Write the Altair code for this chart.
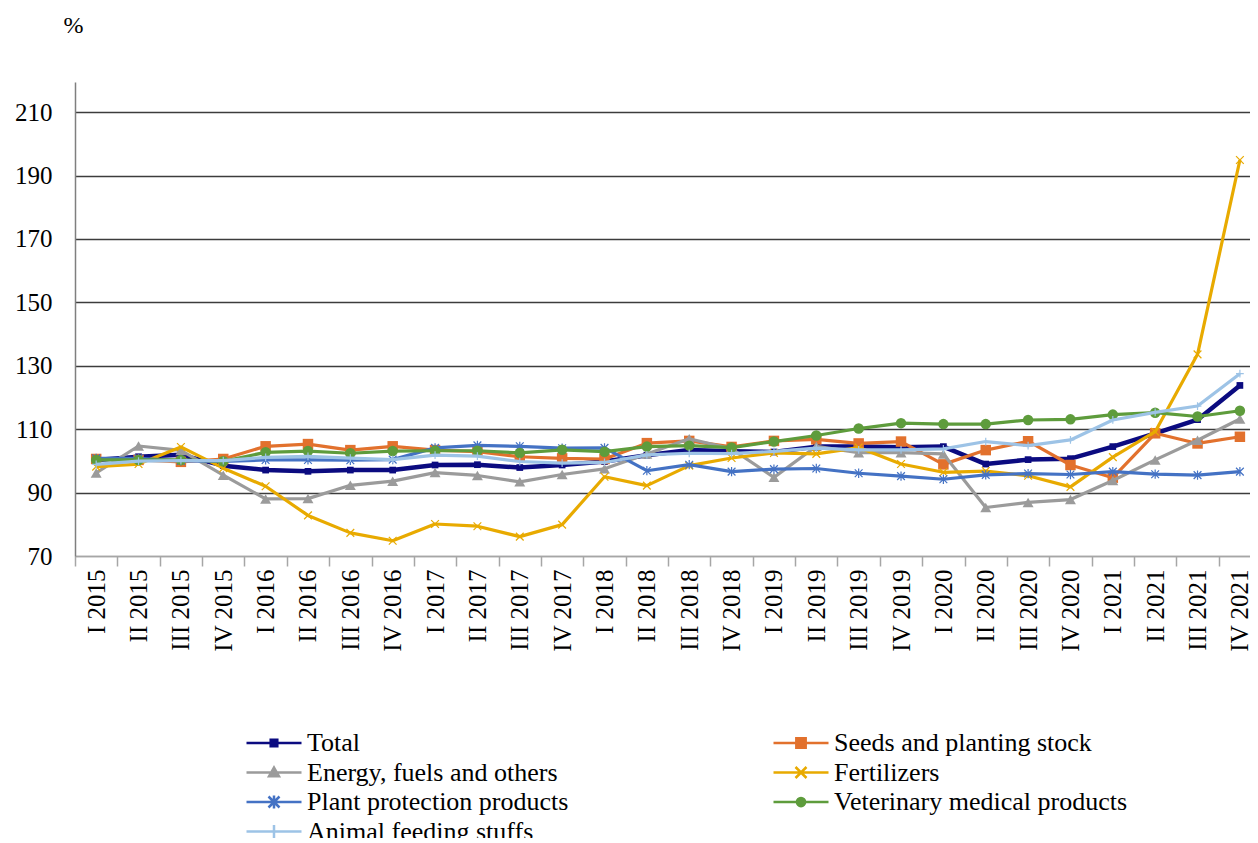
import json
import altair as alt
import pandas as pd

quarters = [
    "I 2015", "II 2015", "III 2015", "IV 2015",
    "I 2016", "II 2016", "III 2016", "IV 2016",
    "I 2017", "II 2017", "III 2017", "IV 2017",
    "I 2018", "II 2018", "III 2018", "IV 2018",
    "I 2019", "II 2019", "III 2019", "IV 2019",
    "I 2020", "II 2020", "III 2020", "IV 2020",
    "I 2021", "II 2021", "III 2021", "IV 2021",
]

series_names = [
    "Total",
    "Seeds and planting stock",
    "Energy, fuels and others",
    "Fertilizers",
    "Plant protection products",
    "Veterinary medical products",
    "Animal feeding stuffs",
]

total = [100.3, 101.3, 101.9, 98.5, 97.1, 96.7, 97.1, 97.1, 98.7, 98.8, 97.9, 98.7, 99.8, 101.8,
         103.4, 103.0, 102.8, 104.5, 104.5, 104.3, 104.5, 99.0, 100.4, 100.7, 104.5, 108.7, 113.0, 123.8]
seeds = [100.6, 100.3, 99.7, 100.6, 104.6, 105.3, 103.4, 104.6, 103.4, 102.9, 101.3, 100.8, 100.6, 105.6,
         106.3, 104.4, 106.3, 106.8, 105.5, 106.1, 98.9, 103.4, 106.2, 98.7, 94.7, 108.7, 105.5, 107.6]
energy = [96.2, 104.7, 103.3, 95.5, 88.0, 88.1, 92.3, 93.6, 96.3, 95.4, 93.4, 95.7, 97.5, 102.2,
          107.0, 103.8, 94.8, 104.6, 102.6, 102.6, 102.2, 85.3, 86.9, 87.8, 93.8, 100.3, 106.5, 113.2]
fertilizers = [98.2, 99.0, 104.4, 97.7, 92.0, 82.8, 77.3, 74.8, 80.1, 79.4, 76.1, 79.9, 95.0, 92.2,
               98.5, 100.9, 102.5, 102.2, 104.2, 99.0, 96.4, 96.8, 95.3, 91.8, 101.2, 109.2, 133.6, 194.9]
plant_protection = [100.8, 100.8, 100.0, 99.8, 100.3, 100.3, 100.2, 100.4, 104.1, 104.9, 104.6, 104.0, 104.1, 96.9,
                    98.8, 96.6, 97.4, 97.6, 96.1, 95.2, 94.2, 95.6, 96.0, 95.7, 96.6, 95.8, 95.5, 96.6]
veterinary = [100.3, 100.3, 100.3, 99.9, 102.7, 103.1, 102.4, 103.1, 103.2, 103.2, 102.5, 103.5, 102.9, 104.5,
              104.8, 104.2, 106.1, 108.0, 110.2, 111.9, 111.6, 111.6, 112.9, 113.1, 114.6, 115.2, 114.0, 115.8]
animal_feeding = [98.9, 99.9, 100.1, 100.1, 101.1, 101.4, 100.9, 100.4, 101.8, 101.5, 99.8, 99.3, 99.5, 101.9,
                  102.4, 102.3, 103.0, 104.0, 103.5, 103.5, 103.8, 106.1, 104.8, 106.6, 112.9, 115.3, 117.3, 127.5]

y_ticks = [70, 90, 110, 130, 150, 170, 190, 210]

# styles (kept apart from the data)
colors = ["#0b0b80", "#E2712D", "#9b9b9b", "#E8AA00", "#4472C4", "#5E9C3C", "#9DC3E6"]
line_widths = [4.5, 3.2, 3.2, 3.2, 3.2, 3.2, 3.2]
X_PATH = "M-1,-1L1,1M-1,1L1,-1"
AST_PATH = "M-1,-1L1,1M-1,1L1,-1M0,-1.2L0,1.2"
PLUS_PATH = "M-1,0L1,0M0,-1L0,1"
marker_shapes = ["square", "square", "triangle-up", X_PATH, AST_PATH, "circle", PLUS_PATH]
marker_sizes = [45, 110, 120, 60, 60, 110, 60]
marker_filled = [True, True, True, False, False, True, False]
legend_paths = [
    "M-1,0L1,0M-0.12,-0.12L0.12,-0.12L0.12,0.12L-0.12,0.12Z",
    "M-1,0L1,0M-0.17,-0.17L0.17,-0.17L0.17,0.17L-0.17,0.17Z",
    "M-1,0L1,0M0,-0.18L0.18,0.14L-0.18,0.14Z",
    "M-1,0L1,0M-0.2,-0.2L0.2,0.2M-0.2,0.2L0.2,-0.2",
    "M-1,0L1,0M-0.2,-0.2L0.2,0.2M-0.2,0.2L0.2,-0.2M0,-0.24L0,0.24",
    "M-1,0L1,0M0.15,0A0.15,0.15 0 1,1 -0.15,0A0.15,0.15 0 1,1 0.15,0Z",
    "M-1,0L1,0M0,-0.24L0,0.24",
]

all_values = [total, seeds, energy, fertilizers, plant_protection, veterinary, animal_feeding]
rows = []
for name, vals in zip(series_names, all_values):
    for i, (q, v) in enumerate(zip(quarters, vals)):
        rows.append({"quarter": q, "idx": i, "series": name, "value": v})
df = pd.DataFrame(rows)

FONT = "Liberation Serif"
PLOT_W = 1175
PLOT_H = 474
STEP = 42.36                        # pixels per quarter
X_MAX = PLOT_W / STEP - 0.5         # plot area cut just after the last quarter
HALF = STEP / 2

x_enc = alt.X(
    "idx:Q",
    scale=alt.Scale(domain=[-0.5, X_MAX], nice=False, zero=False),
    axis=alt.Axis(
        title=None, values=list(range(len(quarters))),
        labelExpr=json.dumps(quarters) + "[datum.value]",
        labelAngle=-90, labelAlign="right", labelBaseline="middle",
        labelFont=FONT, labelFontSize=25, labelColor="black", labelPadding=3,
        labelOverlap=False, labelFlush=False, labelBound=False,
        tickOffset=-HALF, labelOffset=HALF,
        tickSize=10, tickColor="#a6a6a6", tickWidth=1.5,
        domainColor="#a6a6a6", domainWidth=1.5, grid=False,
    ),
)
y_enc = alt.Y(
    "value:Q",
    scale=alt.Scale(domain=[70, 219.5], nice=False, zero=False),
    axis=alt.Axis(
        values=y_ticks, title="%", titleAngle=0, titleX=-2, titleY=-57,
        titleAlign="center", titleBaseline="middle", titleFont=FONT, titleFontSize=24,
        titleFontWeight="normal", titleColor="black",
        labelFont=FONT, labelFontSize=25, labelColor="black", labelPadding=23,
        ticks=False, tickSize=0, domainColor="#7f7f7f", domainWidth=1.5,
        grid=True, gridWidth=1.4,
        gridColor={"condition": {"test": "datum.value == 70", "value": "#a6a6a6"}, "value": "#3c3c3c"},
    ),
)

layers = []
for i, name in enumerate(series_names):
    base = alt.Chart(df).transform_filter(alt.datum.series == name)
    layers.append(
        base.mark_line(color=colors[i], strokeWidth=line_widths[i], strokeJoin="round").encode(
            x=x_enc, y=y_enc, order=alt.Order("idx:Q")
        )
    )
    if marker_filled[i]:
        pm = base.mark_point(shape=marker_shapes[i], size=marker_sizes[i], filled=True,
                             color=colors[i], opacity=1)
    else:
        pm = base.mark_point(shape=marker_shapes[i], size=marker_sizes[i], filled=False,
                             color=colors[i], strokeWidth=1.2, opacity=1)
    layers.append(pm.encode(x=x_enc, y=y_enc))

color_scale = alt.Scale(domain=series_names, range=colors)
legend_layer = alt.Chart(df).mark_point(filled=False, opacity=0).encode(
    x=x_enc,
    y=y_enc,
    color=alt.Color(
        "series:N", scale=color_scale,
        legend=alt.Legend(
            title=None, orient="none", legendX=170, legendY=647, columns=2,
            direction="horizontal", clipHeight=28,
            columnPadding=203, rowPadding=1.5, symbolSize=3025,
            symbolStrokeWidth=2.5,
            symbolOpacity=1, labelFont=FONT, labelFontSize=26, labelColor="black",
            labelLimit=600, labelOffset=4,
        ),
    ),
    fill=alt.Fill("series:N", scale=color_scale, legend=None),
    shape=alt.Shape("series:N", scale=alt.Scale(domain=series_names, range=legend_paths), legend=None),
)

chart = alt.layer(legend_layer, *layers).properties(
    width=PLOT_W,
    height=PLOT_H,
    padding={"left": 67, "top": 74, "right": 0, "bottom": 282},
    autosize=alt.AutoSizeParams(type="none"),
    background="white",
).configure_view(stroke=None)

chart.save("out.html", embed_options={"renderer": "svg", "actions": False})
